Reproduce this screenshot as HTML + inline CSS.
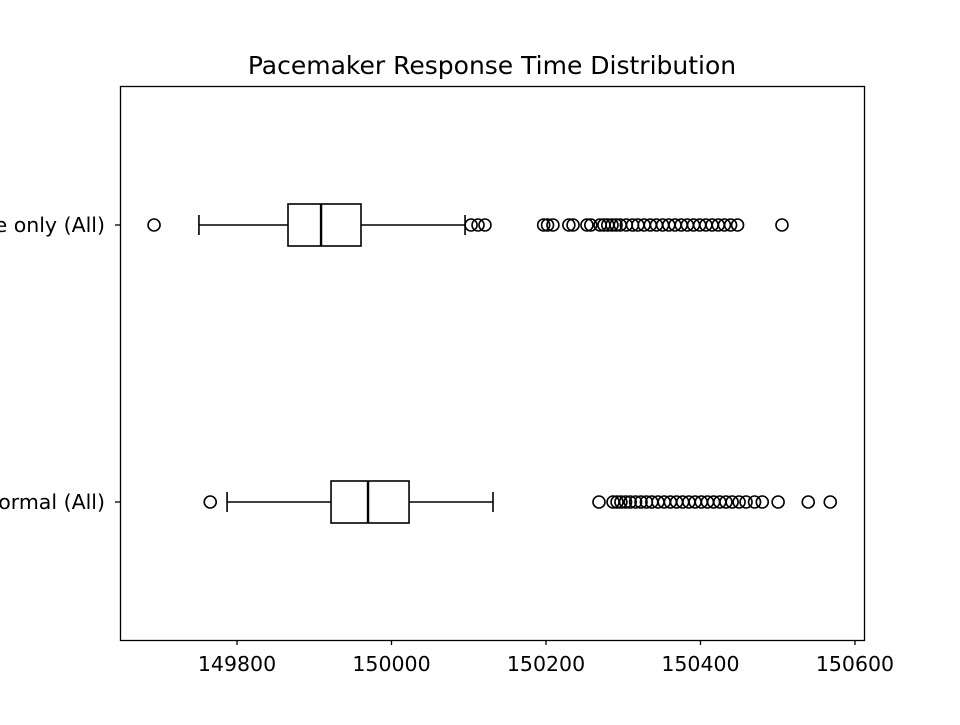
<!DOCTYPE html>
<html><head><meta charset="utf-8"><style>
html,body{margin:0;padding:0;background:#fff;}
svg text{font-family:"DejaVu Sans","Liberation Sans",sans-serif;fill:#000;}
</style></head><body>
<svg id="chart" width="960" height="720" viewBox="0 0 960 720" xmlns="http://www.w3.org/2000/svg">
<rect width="960" height="720" fill="#fff"/>
<text x="492" y="74" font-size="25" text-anchor="middle">Pacemaker Response Time Distribution</text>
<g id="plot"></g>
<rect x="120.5" y="86.5" width="744" height="554" fill="none" stroke="#000" stroke-width="1.3"/>
</svg>
<script>
const categories = ["Pace only (All)", "Normal (All)"];
const whiskLo = [149750.7, 149787.1];
const q1 = [149866, 149921.7];
const medians = [149908.8, 149969.6];
const q3 = [149960.5, 150022.7];
const whiskHi = [150095.2, 150131.4];
const outliersPace = [149692.6,150103,150112,150121,150197,150202,150209,150229.6,150235,150253,150258,150270,150275,150280,150285.5,150290.7,150296,150304,150312,150319,150327,150335,150343,150351,150359,150367,150375,150383,150391,150399,150407,150415,150423,150431,150439,150448,150505.5];
const outliersNormal = [149765.3,150268.6,150286.8,150292,150297,150303,150309,150316,150323,150330,150337,150345,150353,150361,150369,150377,150385,150393,150401,150409,150417,150425,150433,150441,150450,150459,150470,150480,150500.5,150539.5,150568];
const outliers = [outliersPace, outliersNormal];
const xTicks = [149800, 150000, 150200, 150400, 150600];

const NS = "http://www.w3.org/2000/svg";
const L = 120, R = 864, T = 86, B = 640;
const dMin = 149648.5, dMax = 150611.7;
function xs(v){ return L + (v - dMin) / (dMax - dMin) * (R - L); }
const yCenters = [225, 502];
function ys(i){ return yCenters[i]; }
const g = document.getElementById('plot');
function mk(tag, attrs){ const e = document.createElementNS(NS, tag); for (const k in attrs) e.setAttribute(k, attrs[k]); g.appendChild(e); return e; }

xTicks.forEach(t => {
  const x = xs(t);
  const tk = mk('line', {x1:x, x2:x, y1:B, y2:B+5, stroke:'#000', 'stroke-width':1.3});
  
  
  const tl = mk('text', {x:x, y:B+31, 'font-size':20.5, 'text-anchor':'middle'});
  tl.textContent = t;
  
  
});

categories.forEach((c, i) => {
  const y = ys(i), h = 42, cap = 20;
  const ytk = mk('line', {x1:L-5, x2:L, y1:y, y2:y, stroke:'#000', 'stroke-width':1.3});
  
  
  const yl = mk('text', {x:L-15, y:y+7, 'font-size':20.5, 'text-anchor':'end'});
  yl.textContent = c;
  
  
  const w1 = mk('line', {x1:xs(whiskLo[i]), x2:xs(q1[i]), y1:y, y2:y, stroke:'#000', 'stroke-width':1.6});
  
  
  const w2 = mk('line', {x1:xs(q3[i]), x2:xs(whiskHi[i]), y1:y, y2:y, stroke:'#000', 'stroke-width':1.6});
  
  
  [whiskLo[i], whiskHi[i]].forEach(v => {
    const cp = mk('line', {x1:xs(v), x2:xs(v), y1:y-cap/2, y2:y+cap/2, stroke:'#000', 'stroke-width':1.6});
    
    
  });
  const bx = mk('rect', {x:xs(q1[i]), y:y-h/2, width:xs(q3[i])-xs(q1[i]), height:h, fill:'none', stroke:'#000', 'stroke-width':1.6});
  
  
  const md = mk('line', {x1:xs(medians[i]), x2:xs(medians[i]), y1:y-h/2, y2:y+h/2, stroke:'#000', 'stroke-width':2.4});
  
  
  outliers[i].forEach(v => {
    const o = mk('circle', {cx:xs(v), cy:y, r:6, fill:'none', stroke:'#000', 'stroke-width':1.6});
    
    
  });
});
</script>
</body></html>
